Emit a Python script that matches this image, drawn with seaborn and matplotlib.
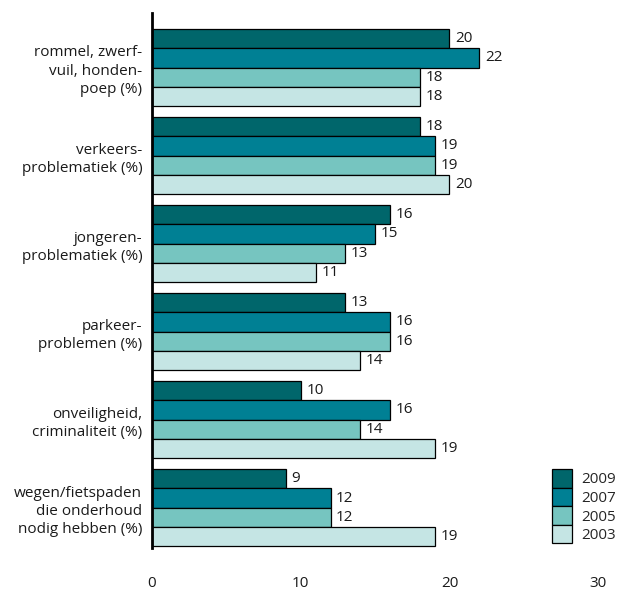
import matplotlib
matplotlib.use("Agg")
import matplotlib.pyplot as plt
import seaborn as sns
import pandas as pd
from matplotlib.patches import Patch

categories = [
    "rommel, zwerf-\nvuil, honden-\npoep (%)",
    "verkeers-\nproblematiek (%)",
    "jongeren-\nproblematiek (%)",
    "parkeer-\nproblemen (%)",
    "onveiligheid,\ncriminaliteit (%)",
    "wegen/fietspaden\ndie onderhoud\nnodig hebben (%)",
]
years = ["2009", "2007", "2005", "2003"]
v2009 = [20, 18, 16, 13, 10, 9]
v2007 = [22, 19, 15, 16, 16, 12]
v2005 = [18, 19, 13, 16, 14, 12]
v2003 = [18, 20, 11, 14, 19, 19]
colors = ["#00666b", "#008094", "#76c5c0", "#c5e5e4"]
xticks = [0, 10, 20, 30]

series = {"2009": v2009, "2007": v2007, "2005": v2005, "2003": v2003}
rows = []
for y in years:
    for c, v in zip(categories, series[y]):
        rows.append({"cat": c, "year": y, "value": v})
df = pd.DataFrame(rows)

sns.set_style("white")
plt.rcParams["font.family"] = ["Open Sans", "DejaVu Sans"]
FS = 11
TXT = "#1a1a1a"

fig = plt.figure(figsize=(6.18, 5.92), dpi=100)
ax = fig.add_axes([0.246, 0.074, 0.722, 0.904])

sns.barplot(data=df, y="cat", x="value", hue="year", order=categories,
            hue_order=years, palette=colors, saturation=1, orient="h",
            width=0.88, edgecolor="black", linewidth=0.9, legend=False, ax=ax)

for cont in ax.containers:
    ax.bar_label(cont, padding=4, fontsize=FS, color=TXT)

ax.set_xlim(0, 30)
ax.set_ylim(5.46, -0.62)
ax.set_xticks(xticks)
ax.set_xticklabels([str(t) for t in xticks], fontsize=FS, color=TXT)
ax.tick_params(axis="x", length=0, pad=20)
ax.tick_params(axis="y", length=0, pad=7, labelsize=FS, labelcolor=TXT)
for lbl in ax.get_yticklabels():
    lbl.set_horizontalalignment("right")
    lbl.set_linespacing(1.3)
ax.set_xlabel("")
ax.set_ylabel("")
for s in ["top", "right", "bottom"]:
    ax.spines[s].set_visible(False)
ax.spines["left"].set_linewidth(2)
ax.spines["left"].set_color("black")

handles = [Patch(facecolor=c, edgecolor="black", linewidth=0.9) for c in colors]
fig.legend(handles, years, loc="upper left", bbox_to_anchor=(0.893, 0.208),
           bbox_transform=fig.transFigure, frameon=False, fontsize=FS,
           handlelength=1.3, handleheight=1.5, labelspacing=0.0,
           handletextpad=0.6, borderpad=0, borderaxespad=0)

fig.savefig("out.png", dpi=100)
